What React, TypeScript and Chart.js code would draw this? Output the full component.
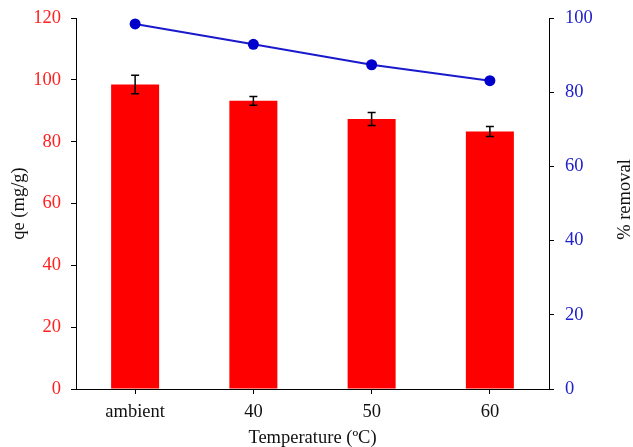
import React, { useEffect, useRef } from "react";
import { Chart, registerables } from "chart.js";

Chart.register(...registerables);

const categories = ["ambient", "40", "50", "60"];
const qeValues = [98.5, 93.2, 87.3, 83.3];
const qeErrors = [3.0, 1.4, 2.1, 1.6];
const removalValues = [98.4, 92.9, 87.4, 83.1];
const xTitle = "Temperature (ºC)";
const yLeftTitle = "qe (mg/g)";
const yRightTitle = "% removal";

const FONT = "'Liberation Serif', 'Times New Roman', serif";
const FS = 18.5;

const errorBarPlugin = {
  id: "errorBars",
  afterDatasetsDraw(chart: any) {
    const meta = chart.getDatasetMeta(0);
    const yScale = chart.scales.y;
    const ctx = chart.ctx;
    ctx.save();
    ctx.strokeStyle = "#000";
    ctx.lineWidth = 1.5;
    meta.data.forEach((el: any, i: number) => {
      const v = qeValues[i];
      const e = qeErrors[i];
      const yTop = yScale.getPixelForValue(v + e);
      const yBot = yScale.getPixelForValue(v - e);
      const x = el.x;
      ctx.beginPath();
      ctx.moveTo(x, yTop);
      ctx.lineTo(x, yBot);
      ctx.moveTo(x - 4, yTop);
      ctx.lineTo(x + 4, yTop);
      ctx.moveTo(x - 4, yBot);
      ctx.lineTo(x + 4, yBot);
      ctx.stroke();
    });
    ctx.restore();
  },
};

const rightTitlePlugin = {
  id: "rightTitle",
  afterDraw(chart: any) {
    const ctx = chart.ctx;
    const s = chart.scales.y1;
    const area = chart.chartArea;
    ctx.save();
    ctx.translate(s.right - 8, (area.top + area.bottom) / 2 - 4);
    ctx.rotate(-Math.PI / 2);
    ctx.fillStyle = "#111";
    ctx.font = `${FS}px ${FONT}`;
    ctx.textAlign = "center";
    ctx.textBaseline = "middle";
    ctx.fillText(yRightTitle, 0, 0);
    ctx.restore();
  },
};

export default function App() {
  const ref = useRef<HTMLCanvasElement | null>(null);
  useEffect(() => {
    if (!ref.current) return;
    const chart = new Chart(ref.current, {
      type: "bar",
      data: {
        labels: categories,
        datasets: [
          {
            type: "bar",
            label: "qe",
            data: qeValues,
            backgroundColor: "#ff0000",
            borderWidth: 0,
            barPercentage: 0.406,
            categoryPercentage: 1,
            yAxisID: "y",
            order: 2,
          } as any,
          {
            type: "line",
            label: "% removal",
            data: removalValues,
            borderColor: "#1a1acc",
            backgroundColor: "#0000cc",
            borderWidth: 2,
            pointRadius: 5.5,
            pointBackgroundColor: "#0000cc",
            pointBorderWidth: 0,
            yAxisID: "y1",
            order: 1,
          } as any,
        ],
      },
      options: {
        animation: false,
        responsive: true,
        maintainAspectRatio: false,
        layout: { padding: { top: 18, left: 0, right: 0, bottom: 0 } },
        plugins: {
          legend: { display: false },
          tooltip: { enabled: false },
        },
        scales: {
          x: {
            offset: true,
            grid: {
              offset: false,
              drawOnChartArea: false,
              drawTicks: true,
              tickLength: 5,
              color: "#000",
            },
            border: { color: "#000", width: 1 },
            ticks: {
              color: "#111",
              font: { family: FONT, size: FS },
              padding: 7,
            },
            title: {
              display: true,
              text: xTitle,
              color: "#111",
              font: { family: FONT, size: FS, lineHeight: 1 },
              padding: 0,
            },
            afterFit(scale: any) {
              scale.height = 58;
              scale.paddingLeft = 0;
              scale.paddingRight = 0;
            },
          },
          y: {
            position: "left",
            min: 0,
            max: 120,
            ticks: {
              stepSize: 20,
              color: "#ff2020",
              font: { family: FONT, size: FS },
              padding: 10,
            },
            grid: {
              drawOnChartArea: false,
              tickLength: 5,
              color: "#000",
            },
            border: { color: "#000", width: 1 },
            title: {
              display: true,
              text: yLeftTitle,
              color: "#111",
              font: { family: FONT, size: FS, lineHeight: 1 },
              padding: { top: 10, bottom: 0 },
            },
            afterFit(scale: any) {
              scale.width = 76;
              scale.paddingTop = 0;
              scale.paddingBottom = 0;
            },
          },
          y1: {
            position: "right",
            min: 0,
            max: 100,
            ticks: {
              stepSize: 20,
              color: "#2020cc",
              font: { family: FONT, size: FS },
              padding: 11,
            },
            grid: {
              drawOnChartArea: false,
              tickLength: 5,
              color: "#000",
            },
            border: { color: "#000", width: 1 },
            title: { display: false },
            afterFit(scale: any) {
              scale.width = 84;
              scale.paddingTop = 0;
              scale.paddingBottom = 0;
            },
          },
        },
      },
      plugins: [errorBarPlugin, rightTitlePlugin],
    } as any);
    return () => chart.destroy();
  }, []);
  return (
    <div style={{ position: "absolute", left: 0, top: 0, width: 633, height: 447 }}>
      <canvas ref={ref} />
    </div>
  );
}
